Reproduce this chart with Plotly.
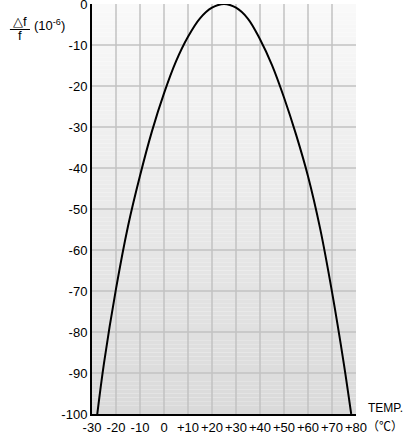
import plotly.graph_objects as go

# Temperature (deg C) and frequency deviation (ppm)
temp = [-27.8, -25, -20, -15, -10, -5, 0, 5, 10, 15, 20, 25,
        30, 35, 40, 45, 50, 55, 60, 65, 70, 75, 78.0]
dev = [-100, -87.6, -69.5, -54.2, -41.9, -31.0, -21.8, -14.0, -8.0, -3.5, -0.9, 0.0,
       -0.9, -3.6, -8.6, -14.9, -22.8, -31.8, -42.0, -54.6, -70.2, -88.0, -100]

x_ticks = [-30, -20, -10, 0, 10, 20, 30, 40, 50, 60, 70, 80]
x_labels = ["-30", "-20", "-10", "0", "+10", "+20", "+30", "+40", "+50", "+60", "+70", "+80"]
y_ticks = [0, -10, -20, -30, -40, -50, -60, -70, -80, -90, -100]
y_labels = ["0", "-10", "-20", "-30", "-40", "-50", "-60", "-70", "-80", "-90", "-100"]

FONT = "Liberation Sans, Arial, sans-serif"
GRID = "#c2c2c2"

fig = go.Figure()
fig.add_trace(go.Scatter(x=temp, y=dev, mode="lines",
                         line=dict(color="black", width=2, shape="spline", smoothing=1.0),
                         hoverinfo="skip", showlegend=False))

# vertical gradient background (below everything)
top_rgb = (249, 249, 249)
bot_rgb = (218, 218, 218)
n = 100
shapes = []
for i in range(n):
    f = i / (n - 1)
    c = tuple(round(bot_rgb[k] + (top_rgb[k] - bot_rgb[k]) * f) for k in range(3))
    y0 = -100 + 100 * i / n
    y1 = -100 + 100 * (i + 1) / n
    shapes.append(dict(type="rect", xref="x", yref="y", x0=-30, x1=80, y0=y0, y1=y1,
                       fillcolor="rgb(%d,%d,%d)" % c, line=dict(width=0), layer="below"))
# grid lines (interior only)
for xv in x_ticks[1:-1]:
    shapes.append(dict(type="line", xref="x", yref="y", x0=xv, x1=xv, y0=-100, y1=0,
                       line=dict(color=GRID, width=1.5), layer="below"))
for yv in y_ticks[1:-1]:
    shapes.append(dict(type="line", xref="x", yref="y", x0=-30, x1=80, y0=yv, y1=yv,
                       line=dict(color=GRID, width=1.5), layer="below"))
# fraction bar of the y title
shapes.append(dict(type="line", xref="paper", yref="paper", x0=-0.311, x1=-0.235,
                   y0=1.0 - (29.5 - 4) / 410, y1=1.0 - (29.5 - 4) / 410,
                   line=dict(color="black", width=1)))

fig.update_layout(
    width=420, height=440,
    margin=dict(l=92, r=64, t=4, b=26, autoexpand=False),
    paper_bgcolor="white", plot_bgcolor="white",
    font=dict(family=FONT, size=13, color="black"),
    shapes=shapes,
    xaxis=dict(range=[-30, 80], tickmode="array", tickvals=x_ticks, ticktext=x_labels,
               showgrid=False, tickangle=0, ticklabeloverflow="allow", automargin=False,
               showline=True, linecolor="black", linewidth=2, ticks="", zeroline=False,
               tickfont=dict(size=13)),
    yaxis=dict(range=[-100, 0], tickmode="array", tickvals=y_ticks, ticktext=y_labels,
               showgrid=False, ticklabeloverflow="allow", automargin=False,
               showline=True, linecolor="black", linewidth=2, ticks="", zeroline=False,
               tickfont=dict(size=13)),
    annotations=[
        dict(text="△f", xref="paper", yref="paper", x=-0.273, y=1.0 - (21 - 4) / 410,
             showarrow=False, xanchor="center", yanchor="middle", font=dict(size=13)),
        dict(text="f", xref="paper", yref="paper", x=-0.273, y=1.0 - (36 - 4) / 410,
             showarrow=False, xanchor="center", yanchor="middle", font=dict(size=13)),
        dict(text="(10<sup>-6</sup>)", xref="paper", yref="paper", x=-0.227, y=1.0 - (25 - 4) / 410,
             showarrow=False, xanchor="left", yanchor="middle", font=dict(size=13)),
        dict(text="TEMP.", xref="paper", yref="paper", x=1.11, y=-(408 - 414) / 410,
             showarrow=False, xanchor="center", yanchor="middle", font=dict(size=12)),
        dict(text="（℃）", xref="paper", yref="paper", x=1.11, y=-(425 - 414) / 410,
             showarrow=False, xanchor="center", yanchor="middle",
             font=dict(size=12, family="Noto Sans CJK JP")),
    ],
)

fig.write_html("out.html", config={"displayModeBar": False},
               post_script="document.body.style.margin='0';document.body.style.padding='0';")
